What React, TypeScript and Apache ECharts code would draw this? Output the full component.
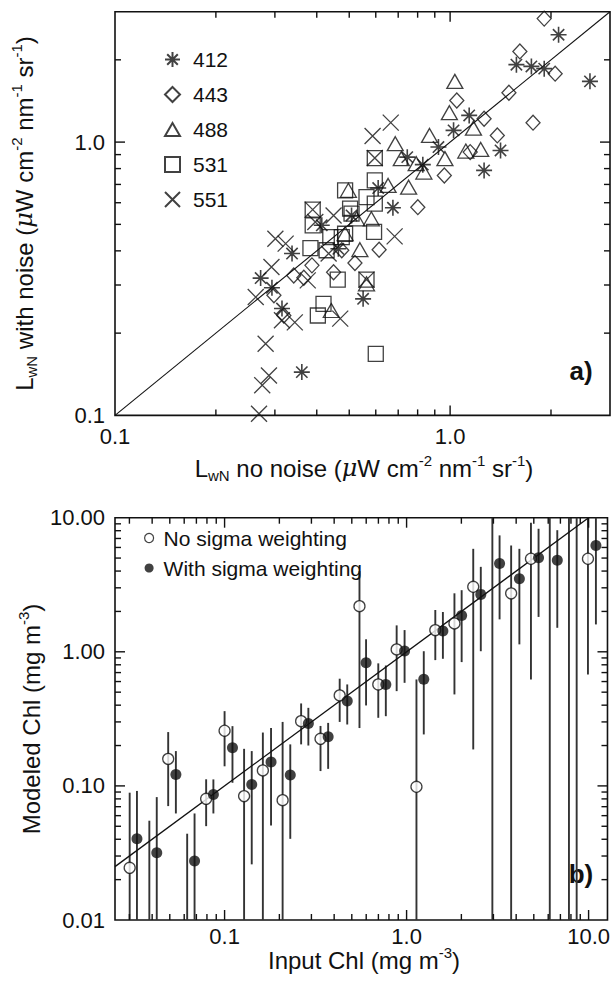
import React, { useEffect, useRef } from 'react';
import * as echarts from 'echarts';

const FONT = '"Liberation Sans", Arial, Helvetica, sans-serif';
const INK = '#111111';

// ---------- Panel a) : LwN with noise vs no noise ----------
const bands = ['412', '443', '488', '531', '551'];
const x412 = [2.107, 1.577, 1.748, 1.909, 2.614, 1.14, 1.024, 0.923, 1.414, 0.745, 1.263, 0.829, 0.61, 0.675, 0.272, 0.294, 0.3375, 0.315, 0.361, 0.414, 0.508, 0.464, 0.55];
const y412 = [2.47, 1.92, 1.892, 1.857, 1.668, 1.252, 1.104, 0.959, 0.932, 0.881, 0.788, 0.827, 0.679, 0.575, 0.318, 0.293, 0.391, 0.246, 0.144, 0.496, 0.539, 0.407, 0.267];
const x443 = [1.909, 1.615, 2.058, 1.498, 1.047, 1.263, 1.768, 1.383, 1.148, 0.961, 0.801, 0.614, 0.52, 0.475, 0.3415, 0.366, 0.387, 0.449, 0.298, 0.319];
const y443 = [2.83, 2.147, 1.78, 1.516, 1.42, 1.218, 1.178, 1.058, 0.919, 0.755, 0.578, 0.404, 0.361, 0.402, 0.325, 0.319, 0.354, 0.334, 0.275, 0.232];
const x488 = [1.033, 0.995, 1.174, 0.868, 0.686, 1.114, 1.234, 0.965, 0.792, 0.835, 0.715, 0.752, 0.497, 0.653, 0.538, 0.563, 0.526, 0.486, 0.582, 0.442];
const y488 = [1.668, 1.281, 1.125, 1.058, 0.987, 0.927, 0.94, 0.87, 0.834, 0.777, 0.87, 0.684, 0.666, 0.694, 0.404, 0.303, 0.524, 0.462, 0.524, 0.242];
const x531 = [0.596, 0.596, 0.486, 0.563, 0.596, 0.503, 0.389, 0.389, 0.439, 0.475, 0.383, 0.428, 0.462, 0.419, 0.403, 0.508, 0.593, 0.563, 0.6, 0.486];
const y531 = [0.874, 0.724, 0.666, 0.629, 0.595, 0.571, 0.566, 0.496, 0.449, 0.449, 0.409, 0.402, 0.314, 0.256, 0.232, 0.547, 0.469, 0.314, 0.168, 0.462];
const x551 = [0.665, 0.587, 0.596, 0.301, 0.323, 0.293, 0.263, 0.315, 0.344, 0.2815, 0.288, 0.275, 0.269, 0.376, 0.47, 0.434, 0.449, 0.396, 0.683, 0.563, 0.389];
const y551 = [1.178, 1.052, 0.874, 0.443, 0.425, 0.349, 0.271, 0.223, 0.219, 0.183, 0.14, 0.129, 0.1014, 0.312, 0.226, 0.391, 0.539, 0.51, 0.452, 0.314, 0.566];
const oneToOneA = [0.1, 3];
const axisA = { min: 0.1, max: 3 };
const ticksAX = [0.2, 0.3, 0.4, 0.5, 0.6, 0.7, 0.8, 0.9, 1, 2];
const ticksAY = [0.2, 0.3, 0.4, 0.5, 0.6, 0.7, 0.8, 0.9, 1, 2];

// ---------- Panel b) : Modeled vs input Chl ----------
const seriesB = ['No sigma weighting', 'With sigma weighting'];
const openX = [0.0301, 0.0386, 0.049, 0.0623, 0.0792, 0.1, 0.128, 0.1623, 0.2084, 0.2634, 0.3366, 0.429, 0.551, 0.699, 0.882, 1.133, 1.438, 1.832, 2.324, 2.96, 3.754, 4.823, 6.12, 7.8, 9.92];
const openY = [0.0245, null, 0.159, null, 0.0801, 0.258, 0.0839, 0.1305, 0.0783, 0.304, 0.2245, 0.473, 2.19, 0.571, 1.042, 0.0985, 1.451, 1.628, 3.053, null, 2.727, 4.94, null, null, 4.94];
const openLo = [0.01, 0.01, 0.0707, 0.01, 0.0501, 0.14, 0.01, 0.01, 0.01, 0.204, 0.129, 0.3, 0.27, 0.322, 0.509, 0.01, 0.867, 0.481, 0.187, 0.01, 0.01, 0.622, 0.01, 0.01, 0.678];
const openHi = [0.089, 0.055, 0.252, 0.044, 0.112, 0.361, 0.189, 0.25, 0.3, 0.412, 0.28, 0.63, 4.0, 0.82, 1.574, 0.622, 2.05, 2.73, 5.86, 10, 6.2, 9.16, 10, 10, 10];
const fillX = [0.033, 0.0424, 0.054, 0.0684, 0.0868, 0.1105, 0.141, 0.18, 0.2296, 0.2886, 0.3707, 0.472, 0.599, 0.769, 0.975, 1.243, 1.583, 2.007, 2.557, 3.243, 4.166, 5.31, 6.73, 8.6, 10.97];
const fillY = [0.0403, 0.0317, 0.1218, 0.0275, 0.0864, 0.1924, 0.1026, 0.1505, 0.1204, 0.292, 0.2324, 0.429, 0.828, 0.571, 1.012, 0.623, 1.427, 1.868, 2.68, 4.56, 3.503, 5.02, 4.81, null, 6.21];
const fillLo = [0.01, 0.01, 0.0623, 0.01, 0.0623, 0.1055, 0.026, 0.0507, 0.0403, 0.2, 0.134, 0.287, 0.398, 0.331, 0.587, 0.242, 0.887, 0.838, 1.01, 1.745, 1.136, 1.82, 1.51, 0.01, 1.6];
const fillHi = [0.0917, 0.0825, 0.1818, 0.0623, 0.1118, 0.279, 0.1818, 0.27, 0.204, 0.382, 0.295, 0.571, 1.24, 0.79, 1.452, 1.01, 1.98, 2.88, 4.3, 7.38, 5.86, 8.27, 8.07, 10, 10];
const fitB = [0.025, 10];
const axisBX = { min: 0.025, max: 12.7 };
const axisBY = { min: 0.01, max: 10 };
const ticksBX = [0.03, 0.04, 0.05, 0.06, 0.07, 0.08, 0.09, 0.1, 0.2, 0.3, 0.4, 0.5, 0.6, 0.7, 0.8, 0.9, 1, 2, 3, 4, 5, 6, 7, 8, 9, 10];
const ticksBY = [0.02, 0.03, 0.04, 0.05, 0.06, 0.07, 0.08, 0.09, 0.1, 0.2, 0.3, 0.4, 0.5, 0.6, 0.7, 0.8, 0.9, 1, 2, 3, 4, 5, 6, 7, 8, 9];

// symbols
const SYM_AST = 'path://M10,0L10,20M0,10L20,10M2.93,2.93L17.07,17.07M17.07,2.93L2.93,17.07';
const SYM_DIA = 'path://M10,0L20,10L10,20L0,10Z';
const SYM_TRI = 'path://M10,0L20,17.3L0,17.3Z';
const SYM_SQR = 'path://M0,0L20,0L20,20L0,20Z';
const SYM_X = 'path://M0,0L20,20M20,0L0,20';

const isDecade = (v: number) => {
  const l = Math.log10(v);
  return Math.abs(l - Math.round(l)) < 1e-6;
};
const isMajor = (v: number) => (isDecade(v) ? 1 : 0);

const zip = (xs: number[], ys: (number | null)[]) =>
  xs.map((x, i) => [x, ys[i]]).filter((p) => p[1] !== null);

function tickSeries(gi: number, xs: number[], ys: number[], refX: number, refY: number) {
  const style = { stroke: INK, lineWidth: 1.4 };
  return [
    {
      type: 'custom',
      xAxisIndex: gi,
      yAxisIndex: gi,
      silent: true,
      z: 5,
      data: xs.map((v) => [v, refY, isMajor(v)]),
      encode: { x: 0, y: 1 },
      renderItem: (params: any, api: any) => {
        const cs = params.coordSys;
        const px = api.coord([api.value(0), api.value(1)])[0];
        const len = api.value(2) ? 10 : 6;
        const b = cs.y + cs.height;
        return {
          type: 'group',
          children: [
            { type: 'line', shape: { x1: px, y1: b, x2: px, y2: b - len }, style },
            { type: 'line', shape: { x1: px, y1: cs.y, x2: px, y2: cs.y + len }, style },
          ],
        };
      },
    },
    {
      type: 'custom',
      xAxisIndex: gi,
      yAxisIndex: gi,
      silent: true,
      z: 5,
      data: ys.map((v) => [refX, v, isMajor(v)]),
      encode: { x: 0, y: 1 },
      renderItem: (params: any, api: any) => {
        const cs = params.coordSys;
        const py = api.coord([api.value(0), api.value(1)])[1];
        const len = api.value(2) ? 10 : 6;
        const r = cs.x + cs.width;
        return {
          type: 'group',
          children: [
            { type: 'line', shape: { x1: cs.x, y1: py, x2: cs.x + len, y2: py }, style },
            { type: 'line', shape: { x1: r, y1: py, x2: r - len, y2: py }, style },
          ],
        };
      },
    },
  ];
}

function errorBars(gi: number, name: string, xs: number[], lo: number[], hi: number[]) {
  return {
    type: 'custom',
    name,
    xAxisIndex: gi,
    yAxisIndex: gi,
    silent: true,
    z: 1,
    data: xs.map((x, i) => [x, lo[i], hi[i]]),
    encode: { x: 0, y: [1, 2] },
    renderItem: (params: any, api: any) => {
      const p1 = api.coord([api.value(0), api.value(1)]);
      const p2 = api.coord([api.value(0), api.value(2)]);
      return {
        type: 'line',
        shape: { x1: p1[0], y1: p1[1], x2: p2[0], y2: p2[1] },
        style: { stroke: '#333333', lineWidth: 1.9 },
      };
    },
  };
}

const richTitle = {
  n: { fontSize: 24, fontFamily: FONT, color: INK, lineHeight: 30 },
  mu: { fontSize: 24, fontFamily: 'DejaVu Serif, serif', fontStyle: 'italic', color: INK, lineHeight: 30 },
  sub: { fontSize: 15, fontFamily: FONT, color: INK, lineHeight: 15, verticalAlign: 'bottom' },
  sup: { fontSize: 15, fontFamily: FONT, color: INK, lineHeight: 15, verticalAlign: 'top' },
};

function titleText(text: string, x: number, y: number, rotate = false) {
  return {
    type: 'text',
    x,
    y,
    rotation: rotate ? Math.PI / 2 : 0,
    silent: true,
    style: {
      text,
      rich: richTitle,
      align: 'center',
      verticalAlign: 'middle',
      fill: INK,
      font: `24px ${FONT}`,
    },
  };
}

const labelFmt = (digits: number) => (v: number) => (isDecade(v) ? v.toFixed(digits) : '');

export default function App() {
  const ref = useRef<HTMLDivElement>(null);

  useEffect(() => {
    document.body.style.margin = '0';
    const chart = echarts.init(ref.current!, null, { renderer: 'svg' });

    const gridStyle = { show: true, borderColor: INK, borderWidth: 1.6, backgroundColor: 'transparent' };
    const axisCommon = {
      type: 'log',
      logBase: 10,
      axisLine: { show: false },
      axisTick: { show: false },
      splitLine: { show: false },
    };
    const lbl = { fontSize: 22, fontFamily: FONT, color: INK };

    const bandSeries = [
      { name: '412', xs: x412, ys: y412, symbol: SYM_AST, size: [16, 16], bw: 1.6 },
      { name: '443', xs: x443, ys: y443, symbol: SYM_DIA, size: [14, 15], bw: 1.3 },
      { name: '488', xs: x488, ys: y488, symbol: SYM_TRI, size: [16, 14], bw: 1.3 },
      { name: '531', xs: x531, ys: y531, symbol: SYM_SQR, size: [15, 15], bw: 1.3 },
      { name: '551', xs: x551, ys: y551, symbol: SYM_X, size: [16, 16], bw: 1.3 },
    ].map((b) => ({
      type: 'scatter',
      name: b.name,
      xAxisIndex: 0,
      yAxisIndex: 0,
      symbol: b.symbol,
      symbolSize: b.size,
      itemStyle: { color: 'rgba(0,0,0,0)', borderColor: INK, borderWidth: b.bw },
      data: zip(b.xs, b.ys),
      z: 3,
    }));

    const option: any = {
      animation: false,
      backgroundColor: '#fff',
      grid: [
        { left: 115, top: 11.7, width: 498.5, height: 403.7, ...gridStyle },
        { left: 115, top: 517.7, width: 498, height: 402.3, ...gridStyle },
      ],
      xAxis: [
        { ...axisCommon, gridIndex: 0, min: axisA.min, max: axisA.max, axisLabel: { ...lbl, margin: 10, formatter: labelFmt(1) } },
        { ...axisCommon, gridIndex: 1, min: axisBX.min, max: axisBX.max, axisLabel: { ...lbl, margin: 5, formatter: labelFmt(1) } },
      ],
      yAxis: [
        { ...axisCommon, gridIndex: 0, min: axisA.min, max: axisA.max, axisLabel: { ...lbl, margin: 10, formatter: labelFmt(1) } },
        { ...axisCommon, gridIndex: 1, min: axisBY.min, max: axisBY.max, axisLabel: { ...lbl, margin: 10, formatter: labelFmt(2) } },
      ],
      legend: [
        {
          data: bands,
          orient: 'vertical',
          left: 164,
          top: 49,
          padding: 0,
          itemWidth: 15,
          itemHeight: 15,
          itemGap: 14,
          selectedMode: false,
          textStyle: { fontSize: 21, fontFamily: FONT, color: INK, padding: [0, 0, 0, 8] },
        },
        {
          data: [
            { name: seriesB[0], itemStyle: { color: '#fff', borderColor: INK, borderWidth: 1.2 } },
            { name: seriesB[1], itemStyle: { color: INK, borderWidth: 0 } },
          ],
          orient: 'vertical',
          left: 144,
          top: 527.5,
          padding: 0,
          itemWidth: 9,
          itemHeight: 9,
          itemGap: 9,
          selectedMode: false,
          textStyle: { fontSize: 21, fontFamily: FONT, color: INK, padding: [0, 0, 0, 5] },
        },
      ],
      series: [
        ...tickSeries(0, ticksAX, ticksAY, 1, 1),
        ...tickSeries(1, ticksBX, ticksBY, 1, 1),
        {
          type: 'line',
          xAxisIndex: 0,
          yAxisIndex: 0,
          data: oneToOneA.map((v) => [v, v]),
          symbol: 'none',
          lineStyle: { color: INK, width: 1.1 },
          z: 2,
          silent: true,
        },
        ...bandSeries,
        errorBars(1, 'errOpen', openX, openLo, openHi),
        errorBars(1, 'errFill', fillX, fillLo, fillHi),
        {
          type: 'line',
          xAxisIndex: 1,
          yAxisIndex: 1,
          data: fitB.map((v) => [v, v]),
          symbol: 'none',
          lineStyle: { color: INK, width: 1.3 },
          z: 2,
          silent: true,
        },
        {
          type: 'scatter',
          name: seriesB[0],
          xAxisIndex: 1,
          yAxisIndex: 1,
          symbol: 'circle',
          symbolSize: 11,
          itemStyle: { color: '#fff', borderColor: INK, borderWidth: 1.3 },
          data: zip(openX, openY),
          z: 3,
        },
        {
          type: 'scatter',
          name: seriesB[1],
          xAxisIndex: 1,
          yAxisIndex: 1,
          symbol: 'circle',
          symbolSize: 11,
          itemStyle: { color: INK },
          data: zip(fillX, fillY),
          z: 4,
        },
      ],
      graphic: [
        titleText('{n|L}{sub|wN}{n| no noise (}{mu|μ}{n|W cm}{sup|-2}{n| nm}{sup|-1}{n| sr}{sup|-1}{n|)}', 364, 468),
        titleText('{n|L}{sub|wN}{n| with noise (}{mu|μ}{n|W cm}{sup|-2}{n| nm}{sup|-1}{n| sr}{sup|-1}{n|)}', 24, 213.5, true),
        titleText('{n|Input Chl (mg m}{sup|-3}{n|)}', 364, 960),
        titleText('{n|Modeled Chl (mg m}{sup|-3}{n|)}', 31, 719, true),
        {
          type: 'text',
          x: 581,
          y: 371,
          silent: true,
          style: { text: 'a)', font: `bold 26px ${FONT}`, fill: INK, align: 'center', verticalAlign: 'middle' },
        },
        {
          type: 'text',
          x: 581,
          y: 874,
          silent: true,
          style: { text: 'b)', font: `bold 26px ${FONT}`, fill: INK, align: 'center', verticalAlign: 'middle' },
        },
      ],
    };
    chart.setOption(option);
    return () => chart.dispose();
  }, []);

  return <div ref={ref} style={{ position: 'absolute', left: 0, top: 0, width: 613, height: 987 }} />;
}
